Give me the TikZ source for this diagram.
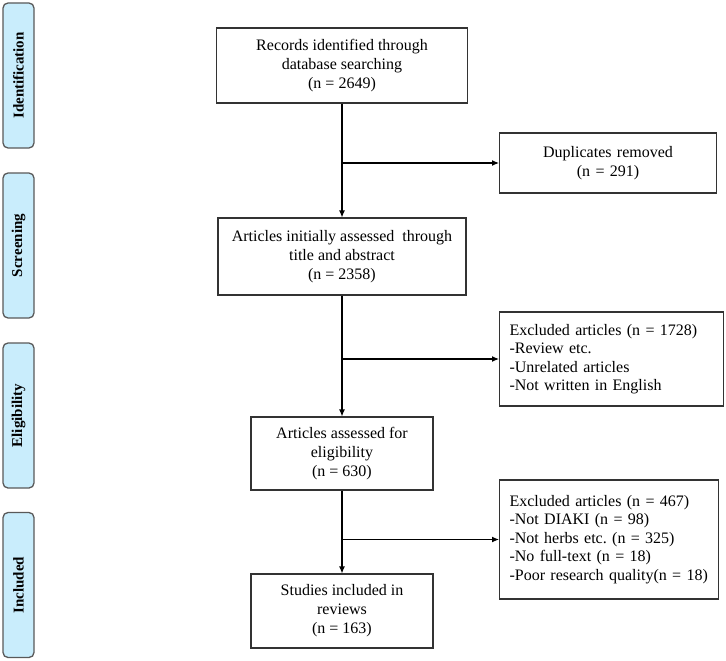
\documentclass[tikz,border=0pt]{standalone}
\usepackage{fontspec}
\setmainfont{Liberation Serif}
\usetikzlibrary{arrows.meta}
\frenchspacing
\definecolor{stagecolorc}{HTML}{C9EDFC}
\colorlet{stagecolor}{stagecolorc}
\colorlet{stageline}{black!65}
\colorlet{boxline}{black!80}
\tikzstyle{stagebox} =[
    draw=stageline,
    fill=stagecolor,
    line width=1.3pt,
    rounded corners=5pt,
    rotate=90,
    minimum width=145pt,
    minimum height=31pt,
    font=\bfseries\fontsize{15}{17}\selectfont
    ]
\tikzstyle{mainbox} = [
    draw=boxline,
    line width=1.1pt,
    rectangle,
    align=center,
    font=\fontsize{16}{19}\selectfont
    ]
\tikzstyle{sidebox} = [
    draw=boxline,
    line width=1.1pt,
    rectangle,
    anchor=west,
    inner xsep=10pt,
    align=left,
    font=\fontsize{16}{18.5}\selectfont
    ]
\tikzstyle{flow} = [
    line width=1.1pt,
    -{Latex[length=7pt,width=6pt]}
    ]

\begin{document}
\begin{tikzpicture}[x=1pt,y=-1pt]
\useasboundingbox (0,0) rectangle (726,661);
% stages
\node[stagebox] (ident) at (18.5,75.5) {Identification};
\node[stagebox] (screen) at (18.5,245.5) {Screening};
\node[stagebox] (elig) at (18.5,415.5) {Eligibility};
\node[stagebox] (incl) at (18.5,585) {Included};
% main column
\node[mainbox, minimum width=251pt, minimum height=75pt] (records) at (342,65.5)
    {Records identified through\\database searching\\(n = 2649)};
\node[mainbox, minimum width=248pt, minimum height=77pt] (initial) at (342,256.5)
    {Articles initially assessed\ \ through\\title and abstract\\(n = 2358)};
\node[mainbox, minimum width=182pt, minimum height=73pt] (assessed) at (342,453.5)
    {Articles assessed for\\eligibility\\(n = 630)};
\node[mainbox, minimum width=182pt, minimum height=74pt] (studies) at (342,611)
    {Studies included in\\reviews\\(n = 163)};
% side boxes
\node[sidebox, align=center, text width=197pt, minimum height=60pt] (dupl) at (499,163)
    {Duplicates removed\\(n = 291)};
\node[sidebox, text width=204pt, minimum height=94pt] (excla) at (499,359)
    {Excluded articles (n = 1728)\\-Review etc.\\-Unrelated articles\\-Not written in English};
\node[sidebox, text width=199pt, minimum height=119pt] (exclb) at (499,539.5)
    {Excluded articles (n = 467)\\-Not DIAKI (n = 98)\\-Not herbs etc. (n = 325)\\-No full-text (n = 18)\\-Poor research quality(n = 18)};
% connectors
\draw[flow] (records) -- (initial);
\draw[flow] (initial) -- (assessed);
\draw[flow] (assessed) -- (studies);
\draw[flow] (records.south |- dupl.west) -- (dupl.west);
\draw[flow] (initial.south |- excla.west) -- (excla.west);
\draw[flow] (assessed.south |- exclb.west) -- (exclb.west);
\end{tikzpicture}
\end{document}
